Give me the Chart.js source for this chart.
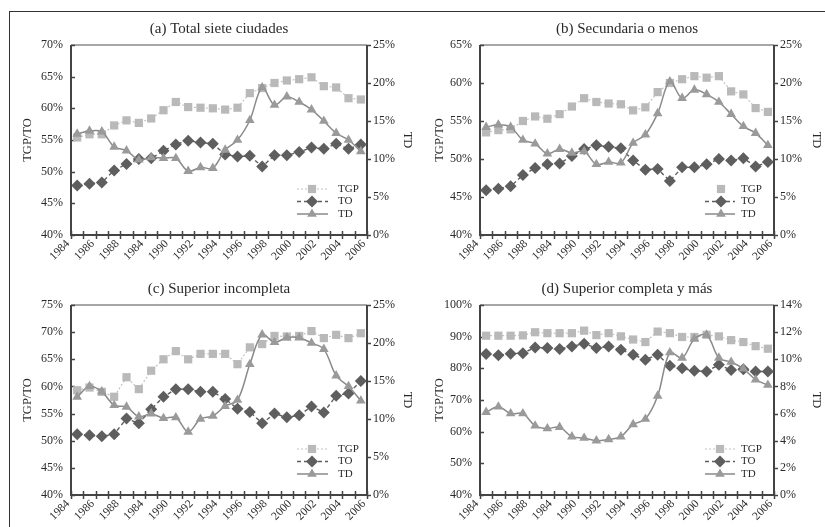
<!DOCTYPE html>
<html><head><meta charset="utf-8">
<script src="https://cdn.jsdelivr.net/npm/chart.js@4.4.0/dist/chart.umd.min.js"></script>
<style>
html,body{margin:0;padding:0;background:#fff;}
#wrap{position:relative;width:825px;height:527px;overflow:hidden;background:#fff;}
#frame{position:absolute;left:9px;top:11px;width:900px;height:600px;border-top:1px solid #333;border-left:1px solid #333;}
canvas{position:absolute;}
</style></head><body>
<div id="wrap">
<div id="frame"></div>
<canvas id="ca" width="412" height="265" style="left:0;top:0"></canvas>
<canvas id="cb" width="413" height="265" style="left:412px;top:0"></canvas>
<canvas id="cc" width="412" height="262" style="left:0;top:265px"></canvas>
<canvas id="cd" width="413" height="262" style="left:412px;top:265px"></canvas>
</div>
<script>
// ---- data ----
const tickLabels = ['1984','1986','1988','1984','1990','1992','1994','1996','1998','2000','2002','2004','2006'];

const tgpA = [55.4,55.9,55.9,57.3,58.1,57.7,58.4,59.7,61.0,60.2,60.1,60.0,59.8,60.1,62.4,63.2,64.0,64.4,64.6,64.9,63.5,63.3,61.6,61.4];
const toA  = [47.8,48.1,48.3,50.2,51.2,52.0,52.1,53.3,54.3,54.9,54.6,54.4,52.7,52.4,52.5,50.8,52.6,52.6,53.1,53.8,53.6,54.4,53.6,54.3];
const tdA  = [13.3,13.7,13.6,11.6,11.1,9.9,10.2,10.1,10.1,8.4,8.9,8.8,11.2,12.5,15.1,19.4,17.1,18.2,17.5,16.5,15.0,13.4,12.5,11.0];

const tgpB = [53.5,53.8,53.9,55.0,55.6,55.3,55.9,56.9,58.0,57.5,57.3,57.2,56.4,56.8,58.8,60.0,60.5,60.9,60.7,60.9,58.9,58.5,56.7,56.2];
const toB  = [45.9,46.1,46.4,47.9,48.8,49.3,49.4,50.4,51.3,51.8,51.6,51.4,49.8,48.6,48.7,47.1,48.9,48.9,49.3,50.0,49.8,50.1,49.0,49.6];
const tdB  = [14.2,14.5,14.2,12.5,12.0,10.7,11.3,10.8,11.0,9.3,9.6,9.5,12.1,13.2,16.0,20.2,18.0,19.1,18.5,17.5,15.9,14.3,13.4,11.8];

const tgpC = [59.3,59.8,59.0,58.1,61.7,59.5,62.9,65.0,66.5,65.0,66.0,66.0,66.0,64.1,67.2,67.8,69.3,69.2,69.3,70.2,68.9,69.5,68.9,69.8];
const toC  = [51.2,51.0,50.8,51.2,54.1,53.2,55.8,58.1,59.5,59.5,59.0,59.0,57.7,55.9,55.3,53.2,55.0,54.3,54.7,56.3,55.2,58.3,58.7,61.0];
const tdC  = [12.9,14.3,13.6,11.8,11.6,10.3,10.7,10.1,10.2,8.3,10.0,10.4,11.7,12.5,17.2,21.1,20.1,20.7,20.7,20.0,19.2,15.7,14.3,12.4];

const tgpD = [90.3,90.3,90.3,90.4,91.4,91.1,91.1,91.1,91.9,90.5,91.1,90.1,89.1,88.3,91.6,91.1,89.9,89.9,90.6,90.1,88.9,88.3,87.0,86.2];
const toD  = [84.5,84.1,84.6,84.8,86.6,86.4,86.1,86.9,87.8,86.4,86.9,85.9,84.3,82.7,84.3,80.8,80.0,79.2,79.0,81.1,79.5,79.7,79.0,79.0];
const tdD  = [6.1,6.5,6.0,6.0,5.1,4.9,5.0,4.3,4.2,4.0,4.1,4.3,5.2,5.6,7.3,10.5,10.1,11.5,11.8,10.1,9.8,9.3,8.5,8.1];

const seriesNames = ['TGP','TO','TD'];

// ---- styles ----
const FONT = '"Liberation Serif", "Times New Roman", serif';
const TXT = '#2a2a2a';
const ST = {
  TGP:{line:'#c2c2c2', fill:'#b9b9b9', dash:[2,2], width:1.2, shape:'rect', r:5.8, tension:0},
  TO: {line:'#5e5e5e', fill:'#5e5e5e', dash:[4,3], width:1.4, shape:'rectRot', r:6, tension:0},
  TD: {line:'#8a8a8a', fill:'#9a9a9a', dash:[], width:1.5, shape:'triangle', r:5.6, tension:0.35}
};

const panels = [
  {id:'ca', title:'(a) Total siete ciudades', d:[tgpA,toA,tdA], yMin:40,yMax:70,yStep:5, y2Max:25,y2Step:5,
   W:412,H:265, box:{l:71,r:367,t:45,b:235}, ytX:-43, y2tX:40, leg:{x0:-70,x1:-39,mk:-55,tx:-29,noLineTGP:false}},
  {id:'cb', title:'(b) Secundaria o menos', d:[tgpB,toB,tdB], yMin:40,yMax:65,yStep:5, y2Max:25,y2Step:5,
   W:413,H:265, box:{l:68,r:362,t:45,b:235}, ytX:-40, y2tX:42, leg:{x0:-69,x1:-39,mk:-53,tx:-33,noLineTGP:true}},
  {id:'cc', title:'(c) Superior incompleta', d:[tgpC,toC,tdC], yMin:40,yMax:75,yStep:5, y2Max:25,y2Step:5,
   W:412,H:262, box:{l:71,r:367,t:40,b:230}, ytX:-43, y2tX:40, leg:{x0:-70,x1:-39,mk:-55,tx:-29,noLineTGP:false}},
  {id:'cd', title:'(d) Superior completa y más', d:[tgpD,toD,tdD], yMin:40,yMax:100,yStep:10, y2Max:14,y2Step:2,
   W:413,H:262, box:{l:68,r:362,t:40,b:230}, ytX:-40, y2tX:42, leg:{x0:-69,x1:-39,mk:-54,tx:-33,noLineTGP:false}}
];

function drawMarker(ctx, shape, r, x, y, color){
  ctx.save();
  ctx.fillStyle = color;
  ctx.beginPath();
  if (shape === 'rect') {
    const s = Math.SQRT1_2 * r;
    ctx.rect(x - s, y - s, 2*s, 2*s);
  } else if (shape === 'rectRot') {
    ctx.moveTo(x, y - r); ctx.lineTo(x + r, y); ctx.lineTo(x, y + r); ctx.lineTo(x - r, y); ctx.closePath();
  } else {
    ctx.moveTo(x, y - r);
    ctx.lineTo(x + r*Math.sin(2*Math.PI/3), y - r*Math.cos(2*Math.PI/3));
    ctx.lineTo(x + r*Math.sin(4*Math.PI/3), y - r*Math.cos(4*Math.PI/3));
    ctx.closePath();
  }
  ctx.fill();
  ctx.restore();
}

function makeDecor(p){
  return {
    id:'decor',
    beforeDatasetsDraw(chart){
      const {ctx, chartArea:a, scales} = chart;
      ctx.save();
      ctx.lineCap = 'butt';
      // top border
      ctx.strokeStyle = '#8a8a8a'; ctx.lineWidth = 1.5;
      ctx.beginPath(); ctx.moveTo(a.left, a.top); ctx.lineTo(a.right, a.top); ctx.stroke();
      // left, bottom, right
      ctx.strokeStyle = '#444'; ctx.lineWidth = 2;
      ctx.beginPath();
      ctx.moveTo(a.left, a.top); ctx.lineTo(a.left, a.bottom); ctx.lineTo(a.right, a.bottom); ctx.lineTo(a.right, a.top);
      ctx.stroke();
      // tick marks
      ctx.lineWidth = 1.5;
      ctx.beginPath();
      scales.x.ticks.forEach(t => {
        const x = Math.round(scales.x.getPixelForValue(t.value)) + 0.5;
        ctx.moveTo(x, a.bottom - 4); ctx.lineTo(x, a.bottom + 4);
      });
      scales.y.ticks.forEach(t => {
        const y = Math.round(scales.y.getPixelForValue(t.value)) + 0.5;
        ctx.moveTo(a.left, y); ctx.lineTo(a.left + 4, y);
      });
      scales.y2.ticks.forEach(t => {
        const y = Math.round(scales.y2.getPixelForValue(t.value)) + 0.5;
        ctx.moveTo(a.right, y); ctx.lineTo(a.right + 4, y);
      });
      ctx.stroke();
      // rotated x tick labels
      ctx.fillStyle = TXT;
      ctx.font = '11.5px ' + FONT;
      ctx.textAlign = 'right'; ctx.textBaseline = 'middle';
      scales.x.ticks.forEach(t => {
        if (t.value % 2 !== 0) return;
        const lab = tickLabels[t.value / 2];
        const x = scales.x.getPixelForValue(t.value);
        ctx.save();
        ctx.translate(x - 3, a.bottom + 7);
        ctx.rotate(-Math.PI / 4);
        ctx.fillText(lab, 0, 0);
        ctx.restore();
      });
      // titles
      ctx.textAlign = 'center'; ctx.textBaseline = 'middle';
      ctx.font = '15px ' + FONT;
      ctx.fillText(p.title, (a.left + a.right)/2, a.top - 16);
      ctx.font = '12.5px ' + FONT;
      const cy = (a.top + a.bottom)/2;
      ctx.save(); ctx.translate(a.left + p.ytX, cy); ctx.rotate(-Math.PI/2); ctx.fillText('TGP/TO', 0, 0); ctx.restore();
      ctx.save(); ctx.translate(a.right + p.y2tX, cy); ctx.rotate(Math.PI/2); ctx.fillText('TD', 0, 0); ctx.restore();
      ctx.restore();
    },
    afterDatasetsDraw(chart){
      const {ctx, chartArea:a} = chart;
      const L = p.leg;
      ctx.save();
      seriesNames.forEach((name, k) => {
        const s = ST[name];
        const y = a.bottom - 46 + k*12.5;
        if (!(name === 'TGP' && L.noLineTGP)) {
          ctx.strokeStyle = s.line; ctx.lineWidth = s.width; ctx.setLineDash(s.dash);
          ctx.beginPath(); ctx.moveTo(a.right + L.x0, y); ctx.lineTo(a.right + L.x1, y); ctx.stroke();
          ctx.setLineDash([]);
        }
        drawMarker(ctx, s.shape, s.r, a.right + L.mk, y, s.fill);
        ctx.fillStyle = TXT; ctx.font = '11px ' + FONT;
        ctx.textAlign = 'left'; ctx.textBaseline = 'middle';
        ctx.fillText(name, a.right + L.tx, y);
      });
      ctx.restore();
    }
  };
}

function pts(arr){ return arr.map((v, i) => ({x: i + 0.5, y: v})); }

function ds(name, arr, axis, order){
  const s = ST[name];
  return {
    label: name, data: pts(arr), yAxisID: axis, order: order,
    borderColor: s.line, backgroundColor: s.fill, borderWidth: s.width, borderDash: s.dash,
    tension: s.tension, pointStyle: s.shape, pointRadius: s.r, pointHoverRadius: s.r,
    pointBackgroundColor: s.fill, pointBorderWidth: 0, fill: false
  };
}

panels.forEach(p => {
  const tickFont = {family: FONT, size: 12};
  new Chart(document.getElementById(p.id), {
    type: 'line',
    data: { datasets: [
      ds('TGP', p.d[0], 'y', 2),
      ds('TO',  p.d[1], 'y', 1),
      ds('TD',  p.d[2], 'y2', 0)
    ]},
    options: {
      responsive: false, animation: false, devicePixelRatio: 1,
      layout: { padding: { top: p.box.t, left: 0, right: 0, bottom: 0 } },
      plugins: { legend: {display: false}, tooltip: {enabled: false}, title: {display: false} },
      scales: {
        x: {
          type: 'linear', min: 0, max: 24,
          grid: {display: false, drawTicks: false}, border: {display: false},
          ticks: { display: false, stepSize: 1, autoSkip: false },
          afterFit: s => { s.height = p.H - p.box.b; }
        },
        y: {
          position: 'left', min: p.yMin, max: p.yMax,
          grid: {display: false, drawTicks: false}, border: {display: false},
          ticks: { stepSize: p.yStep, padding: 8, font: tickFont, color: TXT, callback: v => v + '%' },
          afterFit: s => { s.width = p.box.l; }
        },
        y2: {
          position: 'right', min: 0, max: p.y2Max,
          grid: {display: false, drawTicks: false}, border: {display: false},
          ticks: { stepSize: p.y2Step, padding: 6, font: tickFont, color: TXT, callback: v => v + '%' },
          afterFit: s => { s.width = p.W - p.box.r; }
        }
      }
    },
    plugins: [makeDecor(p)]
  });
});
</script>
</body></html>
